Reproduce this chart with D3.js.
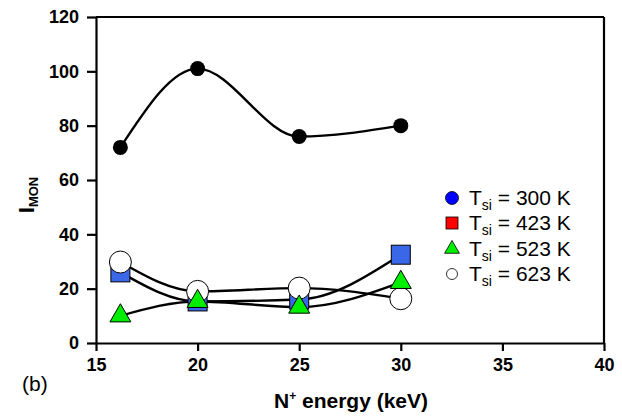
<!DOCTYPE html>
<html>
<head>
<meta charset="utf-8">
<script src="https://cdn.jsdelivr.net/npm/d3@7"></script>
<style>
  html, body { margin: 0; padding: 0; background: #fff; }
  svg { display: block; font-family: "Liberation Sans", Arial, sans-serif; }
</style>
</head>
<body>
<svg id="chart" width="622" height="416"></svg>
<script>
// N+ implantation energy (keV) for each measured sample
const energies = [16.2, 20, 25, 30];
// I_MON values per substrate temperature series
const t300 = [72, 101, 76, 80];
const t423 = [26, 15.3, 16, 32.5];
const t523 = [10, 15.3, 13.2, 22.3];
const t623 = [29.8, 19, 20.2, 16.3];
const xTicks = [15, 20, 25, 30, 35, 40];
const yTicks = [0, 20, 40, 60, 80, 100, 120];
const legendLabels = ["300 K", "423 K", "523 K", "623 K"];

const svg = d3.select("#chart");
const x = d3.scaleLinear().domain([15, 40]).range([96, 604]);
const y = d3.scaleLinear().domain([0, 120]).range([343, 17]);

// Frame: top and right edges
svg.append("line").attr("x1", x(15)).attr("x2", x(40)).attr("y1", y(120)).attr("y2", y(120))
  .attr("stroke", "#000").attr("stroke-width", 2.2);
svg.append("line").attr("x1", x(40)).attr("x2", x(40)).attr("y1", y(120)).attr("y2", y(0))
  .attr("stroke", "#000").attr("stroke-width", 2.2);

// Axes
const yAxis = svg.append("g").attr("transform", `translate(${x(15)},0)`)
  .call(d3.axisLeft(y).tickValues(yTicks).tickSize(9).tickSizeOuter(0).tickPadding(8));
const xAxis = svg.append("g").attr("transform", `translate(0,${y(0)})`)
  .call(d3.axisBottom(x).tickValues(xTicks).tickSize(8).tickSizeOuter(0).tickPadding(7));
[xAxis, yAxis].forEach(g => {
  g.select(".domain").attr("stroke", "#000").attr("stroke-width", 2.2);
  g.selectAll(".tick line").attr("stroke", "#000").attr("stroke-width", 2.2);
  g.selectAll(".tick text").attr("fill", "#000")
    .style("font-size", "18px").style("font-weight", "bold")
    .style("font-family", "'Liberation Sans', Arial, sans-serif");
});

// Axis titles
const yTitle = svg.append("text")
  .attr("transform", "translate(34,195) rotate(-90)")
  .attr("text-anchor", "middle")
  .style("font-weight", "bold").style("font-size", "22px");
yTitle.append("tspan").text("I");
yTitle.append("tspan").attr("dy", 4).style("font-size", "13px").text("MON");

const xTitle = svg.append("text")
  .attr("x", 351).attr("y", 408)
  .attr("text-anchor", "middle")
  .style("font-weight", "bold").style("font-size", "21px");
xTitle.append("tspan").text("N");
xTitle.append("tspan").attr("dy", -8).style("font-size", "12px").text("+");
xTitle.append("tspan").attr("dy", 8).text(" energy (keV)");

svg.append("text").attr("x", 22).attr("y", 391)
  .style("font-size", "21px").text("(b)");

// Smooth curves through each series
const line = d3.line().x((d, i) => x(energies[i])).y(d => y(d)).curve(d3.curveMonotoneX);
const seriesList = [t300, t423, t623, t523];
seriesList.forEach(s => {
  svg.append("path").datum(s).attr("d", line)
    .attr("fill", "none").attr("stroke", "#000").attr("stroke-width", 2.4);
});

// Markers
svg.append("g").selectAll("circle").data(t300).join("circle")
  .attr("cx", (d, i) => x(energies[i])).attr("cy", d => y(d)).attr("r", 7.5)
  .attr("fill", "#000");

const sq = 19;
svg.append("g").selectAll("rect").data(t423).join("rect")
  .attr("x", (d, i) => x(energies[i]) - sq / 2).attr("y", d => y(d) - sq / 2)
  .attr("width", sq).attr("height", sq)
  .attr("fill", "#3a66e8").attr("stroke", "#000").attr("stroke-width", 1);

svg.append("g").selectAll("circle").data(t623).join("circle")
  .attr("cx", (d, i) => x(energies[i])).attr("cy", d => y(d)).attr("r", 11)
  .attr("fill", "#fff").attr("stroke", "#000").attr("stroke-width", 1);

const tri = d3.symbol().type(d3.symbolTriangle).size(190);
svg.append("g").selectAll("path").data(t523).join("path")
  .attr("transform", (d, i) => `translate(${x(energies[i])},${y(d)})`)
  .attr("d", tri)
  .attr("fill", "#00ee00").attr("stroke", "#000").attr("stroke-width", 1);

// Legend
const legendY = [198, 223, 249, 274];
const lg = svg.append("g");
const lx = 452;
lg.append("circle").attr("cx", lx).attr("cy", legendY[0]).attr("r", 6.5)
  .attr("fill", "#0000ff").attr("stroke", "#000").attr("stroke-width", 0.8);
lg.append("rect").attr("x", lx - 6).attr("y", legendY[1] - 6).attr("width", 12).attr("height", 12)
  .attr("fill", "#ff0000").attr("stroke", "#000").attr("stroke-width", 0.8);
lg.append("path").attr("transform", `translate(${lx},${legendY[2]})`)
  .attr("d", d3.symbol().type(d3.symbolTriangle).size(95))
  .attr("fill", "#00ee00").attr("stroke", "#000").attr("stroke-width", 0.8);
lg.append("circle").attr("cx", lx).attr("cy", legendY[3]).attr("r", 5.5)
  .attr("fill", "#fff").attr("stroke", "#000").attr("stroke-width", 0.8);

legendLabels.forEach((lab, i) => {
  const t = lg.append("text").attr("x", 469).attr("y", legendY[i] + 7)
    .style("font-size", "21px");
  t.append("tspan").text("T");
  t.append("tspan").attr("dy", 5).style("font-size", "14px").text("si");
  t.append("tspan").attr("dy", -5).text(" = " + lab);
});
</script>
</body>
</html>
